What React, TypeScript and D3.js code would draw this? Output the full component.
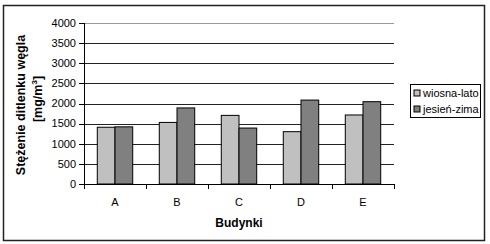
import React from "react";
import * as d3 from "d3";

const categories = ["A", "B", "C", "D", "E"];
const series = ["wiosna-lato", "jesień-zima"];
const springSummer = [1410, 1530, 1705, 1300, 1715];
const autumnWinter = [1420, 1890, 1390, 2085, 2045];
const yTicks = [0, 500, 1000, 1500, 2000, 2500, 3000, 3500, 4000];
const colors = ["#c0c0c0", "#808080"];

const W = 490;
const H = 244;
const plot = { left: 84, right: 394, top: 23, bottom: 184 };
const font = "'Liberation Sans', Arial, sans-serif";

export default function App() {
  const x = d3.scaleBand<string>().domain(categories).range([plot.left, plot.right]).paddingInner(0).paddingOuter(0);
  const y = d3.scaleLinear().domain([0, 4000]).range([plot.bottom, plot.top]);
  const cw = x.bandwidth();
  const inner = d3.scaleBand<string>().domain(series).range([0, cw * (2 / 3.5)]);
  const offset = cw * (0.75 / 3.5);
  const data = [springSummer, autumnWinter];

  return (
    <svg width={W} height={H} style={{ position: "absolute", left: 0, top: 0, display: "block" }}>
      <rect x={0} y={0} width={W} height={H} fill="#fff" />
      <rect x={3.5} y={5.5} width={481} height={235} fill="#fff" stroke="#222" strokeWidth={1.5} />
      {yTicks.map((t) => (
        <g key={t}>
          {t > 0 && (
            <line x1={plot.left} x2={plot.right} y1={Math.round(y(t)) + 0.5} y2={Math.round(y(t)) + 0.5} stroke={t === 4000 ? "#999" : "#222"} strokeWidth={1} />
          )}
          <line x1={plot.left - 5} x2={plot.left} y1={Math.round(y(t)) + 0.5} y2={Math.round(y(t)) + 0.5} stroke="#000" />
          <text x={76} y={y(t)} dy="0.35em" textAnchor="end" fontFamily={font} fontSize={11} fill="#000">
            {t}
          </text>
        </g>
      ))}
      {categories.map((c, i) =>
        data.map((vals, s) => (
          <rect
            key={c + s}
            x={(x(c) as number) + offset + (inner(series[s]) as number)}
            y={y(vals[i])}
            width={inner.bandwidth()}
            height={plot.bottom - y(vals[i])}
            fill={colors[s]}
            stroke="#000"
            strokeWidth={1}
          />
        ))
      )}
      <line x1={plot.left + 0.5} x2={plot.left + 0.5} y1={plot.top} y2={plot.bottom} stroke="#000" />
      <line x1={plot.left} x2={plot.right} y1={plot.bottom + 0.5} y2={plot.bottom + 0.5} stroke="#000" />
      {categories.concat(["_end"]).map((c, i) => {
        const xx = plot.left + i * cw;
        return <line key={c} x1={Math.round(xx) + 0.5} x2={Math.round(xx) + 0.5} y1={plot.bottom} y2={plot.bottom + 5} stroke="#000" />;
      })}
      {categories.map((c) => (
        <text key={c} x={(x(c) as number) + cw / 2} y={202} dy="0.35em" textAnchor="middle" fontFamily={font} fontSize={11} fill="#000">
          {c}
        </text>
      ))}
      <text x={(plot.left + plot.right) / 2} y={223} dy="0.35em" textAnchor="middle" fontFamily={font} fontSize={12} fontWeight="bold" fill="#000">
        Budynki
      </text>
      <g transform="translate(21,105) rotate(-90)">
        <text x={0} y={0} dy="0.35em" textAnchor="middle" fontFamily={font} fontSize={12.5} fontWeight="bold" fill="#000">
          Stężenie ditlenku węgla
        </text>
      </g>
      <g transform="translate(38,99) rotate(-90)">
        <text x={0} y={0} dy="0.35em" textAnchor="middle" fontFamily={font} fontSize={12.5} fontWeight="bold" fill="#000">
          [mg/m<tspan dy="-5" fontSize={8}>3</tspan><tspan dy="5">]</tspan>
        </text>
      </g>
      <rect x={410.5} y={84.5} width={70} height={33} fill="#fff" stroke="#000" strokeWidth={1} />
      {series.map((s, i) => (
        <g key={s} transform={`translate(414,${93 + i * 16})`}>
          <rect x={0} y={-3} width={6} height={6} fill={colors[i]} stroke="#000" strokeWidth={1} />
          <text x={9} y={0} dy="0.35em" fontFamily={font} fontSize={11} fill="#000">
            {s}
          </text>
        </g>
      ))}
    </svg>
  );
}
